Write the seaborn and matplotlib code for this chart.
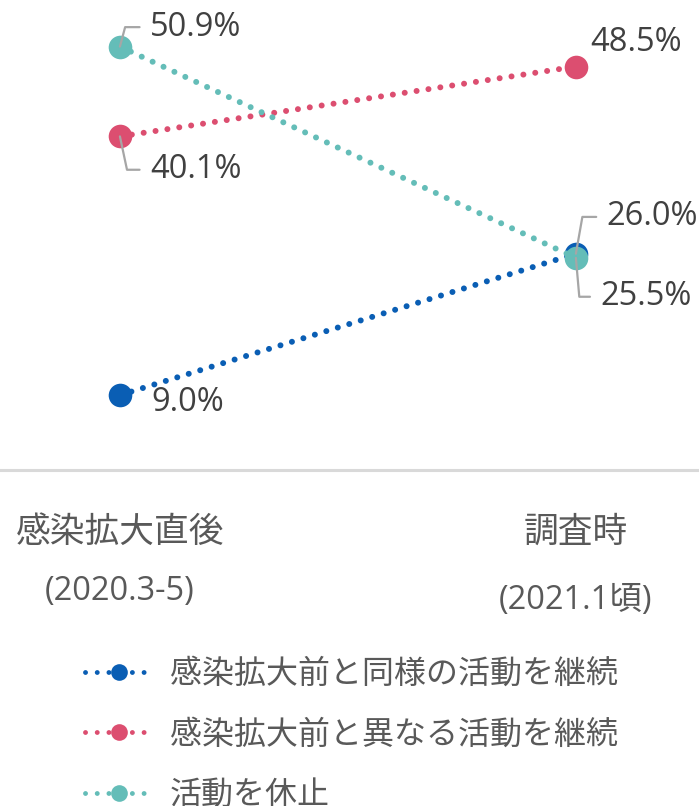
import matplotlib
matplotlib.use("Agg")
import matplotlib.pyplot as plt
import matplotlib.transforms as mtransforms
from matplotlib.lines import Line2D
import seaborn as sns
import pandas as pd

# -------------------------------------------------------------
# data
# -------------------------------------------------------------
periods = ["感染拡大直後", "調査時"]
period_sub = ["(2020.3-5)", "(2021.1頃)"]
series = ["感染拡大前と同様の活動を継続", "感染拡大前と異なる活動を継続", "活動を休止"]
same_vals = [9.0, 26.0]
diff_vals = [40.1, 48.5]
pause_vals = [50.9, 25.5]
colors = ["#0A5EB4", "#DC4E70", "#64BDB8"]

rows = []
for name, vals in zip(series, [same_vals, diff_vals, pause_vals]):
    for i, v in enumerate(vals):
        rows.append({"serie": name, "x": i, "value": v})
df = pd.DataFrame(rows)

sns.set_theme(style="white")
plt.rcParams["font.family"] = ["Open Sans", "Noto Sans CJK JP", "DejaVu Sans"]

fig = plt.figure(figsize=(6.99, 8.06), dpi=100)
ax = fig.add_axes([0, 1 - 470 / 806, 1, 470 / 806])

for name, col in zip(series, colors):
    sub = df[df["serie"] == name]
    sns.lineplot(data=sub, x="x", y="value", ax=ax, color=col, lw=4.3,
                 linestyle=(0, (0.01, 2.0)), dash_capstyle="round",
                 marker="o", markersize=17, markeredgewidth=0, legend=False)

ax.set_xlim(-0.263, 1.27)
ax.set_ylim(0, 56.5)
ax.set_xticks([])
ax.set_yticks([])
ax.set_xlabel("")
ax.set_ylabel("")
for s in ["top", "left", "right"]:
    ax.spines[s].set_visible(False)
ax.spines["bottom"].set_color("#d9d9d9")
ax.spines["bottom"].set_linewidth(2.2)

# -------------------------------------------------------------
# value labels (offset in points, leader angle or None)
# -------------------------------------------------------------
label_cfg = {
    (0, 0): ((23, -5.5), None),
    (0, 1): ((22, 26.5), 80),
    (1, 0): ((21.5, -24), -78),
    (1, 1): ((10, 17), None),
    (2, 0): ((21.5, 14), 75),
    (2, 1): ((17.5, -28), -85),
}
all_vals = [same_vals, diff_vals, pause_vals]
for (si, pi), (off, ang) in label_cfg.items():
    v = all_vals[si][pi]
    arrow = None
    if ang is not None:
        arrow = dict(arrowstyle="-", color="#a6a6a6", lw=1.6,
                     connectionstyle=f"angle,angleA=0,angleB={ang},rad=0",
                     shrinkA=5, shrinkB=0, relpos=(0, 0.5))
    ax.annotate(f"{v:.1f}%", xy=(pi, v), xytext=off, textcoords="offset points",
                ha="left", va="center", fontsize=23.5, color="#404040",
                arrowprops=arrow, zorder=6, annotation_clip=False)

# -------------------------------------------------------------
# category labels
# -------------------------------------------------------------
trans = mtransforms.blended_transform_factory(ax.transData, ax.transAxes)
for i, (p, sp) in enumerate(zip(periods, period_sub)):
    ax.text(i, -0.134, p, transform=trans, ha="center", va="center",
            fontsize=25, color="#595959")
    ax.text(i, -0.258 if i == 0 else -0.277, sp, transform=trans, ha="center",
            va="center", fontsize=23.5, color="#595959")

# -------------------------------------------------------------
# legend
# -------------------------------------------------------------
handles = [Line2D([], [], color=c, lw=3.5, linestyle=(0, (0.01, 2.4)),
                  dash_capstyle="round", marker="o", markersize=12,
                  markeredgewidth=0) for c in colors]
fig.legend(handles, series, loc="upper left",
           bbox_to_anchor=(85 / 699, 1 - 658 / 806), frameon=False,
           fontsize=23, handlelength=2.15, handletextpad=0.5,
           labelspacing=0.86, borderpad=0, borderaxespad=0,
           labelcolor="#595959", numpoints=1)

fig.savefig("out.png", dpi=100)
